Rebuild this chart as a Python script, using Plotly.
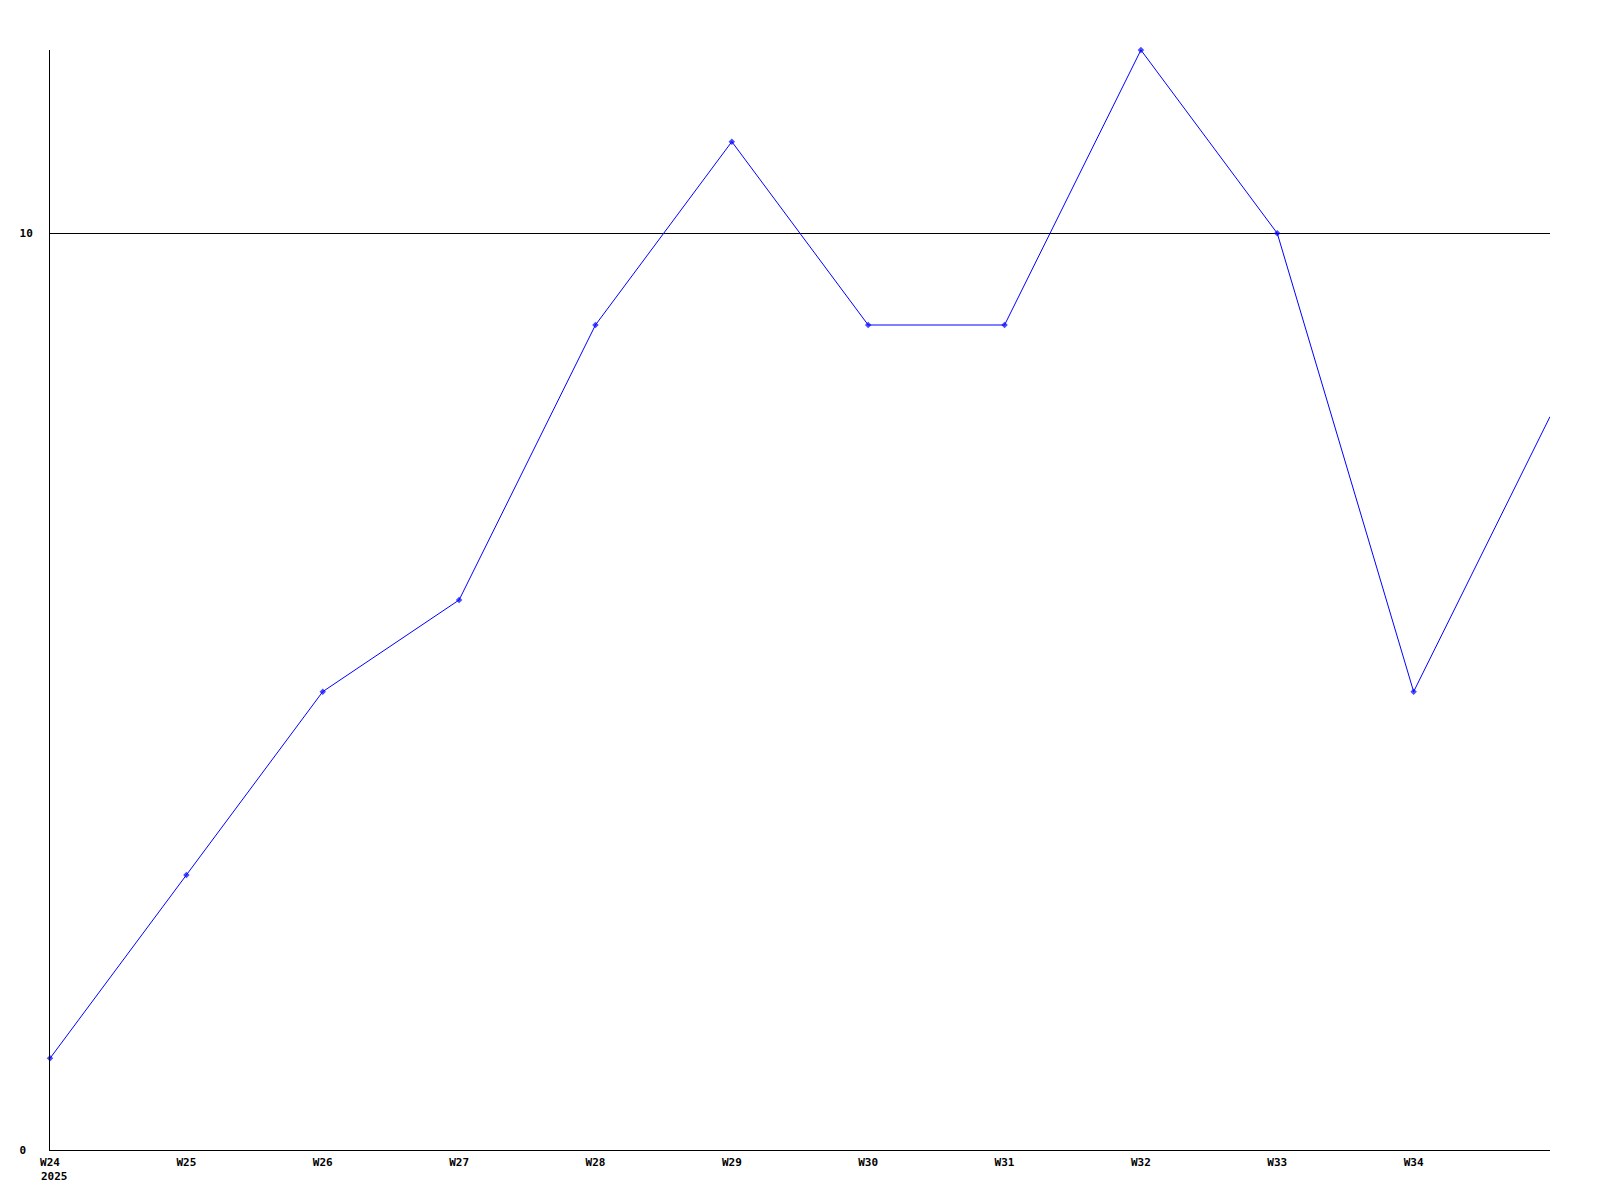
import plotly.graph_objects as go

weeks = ["W24", "W25", "W26", "W27", "W28", "W29", "W30", "W31", "W32", "W33", "W34", "W35"]
values = [1, 3, 5, 6, 9, 11, 9, 9, 12, 10, 5, 8]
tick_labels = ["W24", "W25", "W26", "W27", "W28", "W29", "W30", "W31", "W32", "W33", "W34"]
year_label = "2025"
y_ticks = [0, 10]
y_tick_text = ["0\u00a0", "10"]

x_idx = list(range(len(weeks)))
marker_sizes = [5] * (len(weeks) - 1) + [0]

font = dict(family="DejaVu Sans Mono", size=11, color="black", weight="bold")

fig = go.Figure()
fig.add_trace(go.Scatter(
    x=x_idx, y=values, mode="lines+markers",
    line=dict(color="#0000ff", width=1),
    marker=dict(color="#0000ff", size=marker_sizes, symbol="diamond", line=dict(width=0)),
    cliponaxis=False,
    text=weeks, hoverinfo="text+y",
))

fig.update_layout(
    width=1600, height=1200,
    margin=dict(l=42, r=58, t=42, b=58),
    paper_bgcolor="white", plot_bgcolor="white",
    showlegend=False,
    font=font,
    xaxis=dict(
        range=[0, len(weeks) - 1],
        tickmode="array", tickvals=list(range(len(tick_labels))), ticktext=tick_labels,
        showgrid=False, zeroline=False,
        showline=True, linecolor="black", linewidth=1,
        ticks="", tickfont=font, ticklabelstandoff=2,
    ),
    yaxis=dict(
        range=[0, 12],
        tickmode="array", tickvals=y_ticks, ticktext=y_tick_text,
        showgrid=True, gridcolor="black", gridwidth=1,
        zeroline=False,
        showline=True, linecolor="black", linewidth=1,
        ticks="", tickfont=font, ticklabelstandoff=14,
    ),
    annotations=[dict(
        x=0, y=0, xref="x", yref="paper", text=year_label,
        showarrow=False, xanchor="left", yanchor="top",
        xshift=-11, yshift=-18, font=font,
    )],
)

fig.write_html("out.html")
